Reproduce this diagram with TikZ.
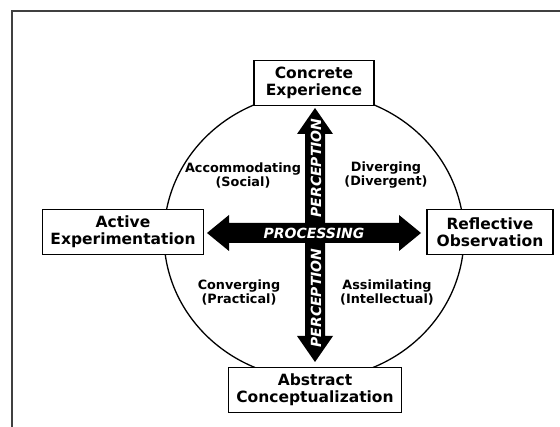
\documentclass[tikz,border=0pt]{standalone}
\usepackage{fontspec}
\setmainfont{DejaVu Sans}
\usetikzlibrary{positioning}

\begin{document}
\begin{tikzpicture}[
    x=1pt, y=-1pt,
    stage/.style={rectangle, draw, line width=1.6pt, fill=white, minimum height=45pt, inner xsep=8pt, align=center, font=\fontsize{15.5}{17}\selectfont\bfseries},
    quadrant/.style={align=center, font=\fontsize{12.8}{14}\selectfont\bfseries},
    axislabel/.style={text=white, inner sep=0pt, font=\fontsize{14}{14}\selectfont\bfseries\itshape}
]
\useasboundingbox (0,0) rectangle (560,427);

% frame (only top and left edges show)
\draw[line width=1.2pt, black!75] (12,427) |- (560,11);

% learning cycle
\draw[line width=1.3pt] (314,236) ellipse [x radius=150pt, y radius=143pt];

% Processing axis (horizontal double arrow)
\coordinate (hub) at (315,233);
\fill (hub) ++(-108,0) -- ++(22,-18) -- ++(0,8) -- ++(170,0) -- ++(0,-8)
  -- ++(22,18) -- ++(-22,18) -- ++(0,-8) -- ++(-170,0) -- ++(0,8) -- cycle;

% Perception axis (vertical double arrow)
\fill (hub) ++(0,-125) -- ++(18,26) -- ++(-8,0) -- ++(0,202) -- ++(8,0)
  -- ++(-18,26) -- ++(-18,-26) -- ++(8,0) -- ++(0,-202) -- ++(-8,0) -- cycle;

\node[axislabel] (processing) at (314,233) {PROCESSING};
\node[axislabel, rotate=90] (perceptionup) at (316,168) {PERCEPTION};
\node[axislabel, rotate=90] (perceptiondown) at (316,298) {PERCEPTION};

% learning styles
\node[quadrant] (accommodating) at (243,175) {Accommodating\\(Social)};
\node[quadrant] (diverging) at (386,175) {Diverging\\(Divergent)};
\node[quadrant] (converging) at (239,292) {Converging\\(Practical)};
\node[quadrant] (assimilating) at (387,292) {Assimilating\\(Intellectual)};

% the four stages
\node[stage, minimum width=120pt] (concrete) at (314,83) {Concrete\\Experience};
\node[stage, minimum width=160pt] (active) at (123,232) {Active\\Experimentation};
\node[stage, minimum width=126pt] (reflective) at (490,232) {Reflective\\Observation};
\node[stage, minimum width=170pt] (abstract) at (315,390) {Abstract\\Conceptualization};

\end{tikzpicture}
\end{document}
